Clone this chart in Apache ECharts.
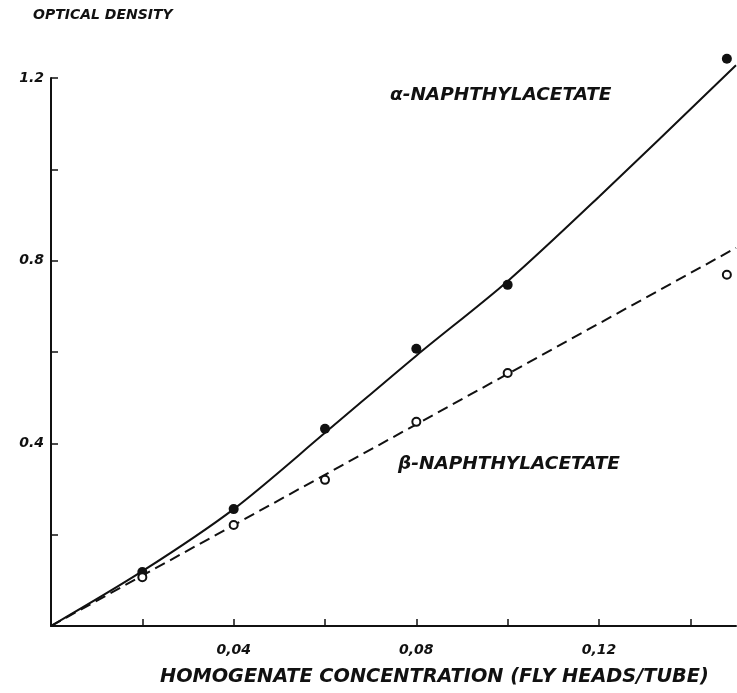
<!DOCTYPE html>
<html>
<head>
<meta charset="utf-8">
<script src="https://cdn.jsdelivr.net/npm/echarts@6/dist/echarts.min.js"></script>
<style>
  html, body { margin: 0; padding: 0; background: #fff; }
  #chart { width: 737px; height: 693px; }
</style>
</head>
<body>
<div id="chart"></div>
<script>
// Homogenate concentration (fly heads per tube)
var concentration = [0.02, 0.04, 0.06, 0.08, 0.10, 0.148];
// Optical density measured with each substrate
var alphaDensity = [0.118, 0.256, 0.432, 0.607, 0.747, 1.242];
var betaDensity  = [0.107, 0.221, 0.320, 0.447, 0.554, 0.769];

// Drawn fit curves through the measurements
var alphaFitX = [0, 0.02, 0.04, 0.06, 0.08, 0.10, 0.12, 0.15];
var alphaFitY = [0, 0.12, 0.256, 0.423, 0.592, 0.755, 0.94, 1.228];
var betaFitX  = [0, 0.15];
var betaFitY  = [0, 0.828];

// Axis ticks and labels
var xTicks  = [0.02, 0.04, 0.06, 0.08, 0.10, 0.12, 0.14];
var xLabels = [0.04, 0.08, 0.12];
var yTicks  = [0.2, 0.4, 0.6, 0.8, 1.0, 1.2];
var yLabels = [0.4, 0.8, 1.2];

var yTitle = 'OPTICAL DENSITY';
var xTitle = 'HOMOGENATE CONCENTRATION (FLY HEADS/TUBE)';
var alphaName = 'α-NAPHTHYLACETATE';
var betaName  = 'β-NAPHTHYLACETATE';

function pairs(xs, ys) {
  return xs.map(function (x, i) { return [x, ys[i]]; });
}

var FONT = '"DejaVu Sans", sans-serif';
var INK = '#111';

var chart = echarts.init(document.getElementById('chart'), null, { renderer: 'canvas' });

chart.setOption({
  backgroundColor: '#fff',
  animation: false,
  grid: { left: 51, right: 1, top: 78, bottom: 67, containLabel: false },
  xAxis: {
    type: 'value',
    min: 0,
    max: 0.15,
    axisLine: { show: true, onZero: false, lineStyle: { color: INK, width: 2 } },
    axisTick: { show: true, inside: true, length: 7, customValues: xTicks, lineStyle: { color: INK, width: 1.5 } },
    axisLabel: {
      customValues: xLabels,
      margin: 17,
      color: INK,
      fontFamily: FONT,
      fontStyle: 'italic',
      fontWeight: 'bold',
      fontSize: 14,
      formatter: function (v) { return v.toFixed(2).replace('.', ','); }
    },
    splitLine: { show: false }
  },
  yAxis: {
    type: 'value',
    min: 0,
    max: 1.2,
    axisLine: { show: true, onZero: false, lineStyle: { color: INK, width: 2 } },
    axisTick: { show: true, inside: true, length: 7, customValues: yTicks, lineStyle: { color: INK, width: 1.5 } },
    axisLabel: {
      customValues: yLabels,
      margin: 7,
      color: INK,
      fontFamily: FONT,
      fontStyle: 'italic',
      fontWeight: 'bold',
      fontSize: 14,
      formatter: function (v) { return v.toFixed(1); }
    },
    splitLine: { show: false }
  },
  series: [
    {
      name: 'alpha fit',
      type: 'line',
      data: pairs(alphaFitX, alphaFitY),
      smooth: 0.3,
      showSymbol: false,
      silent: true,
      clip: false,
      lineStyle: { color: INK, width: 2 },
      z: 2
    },
    {
      name: 'beta fit',
      type: 'line',
      data: pairs(betaFitX, betaFitY),
      showSymbol: false,
      silent: true,
      lineStyle: { color: INK, width: 2, type: [11, 6] },
      z: 2
    },
    {
      name: alphaName,
      type: 'scatter',
      data: pairs(concentration, alphaDensity),
      symbol: 'circle',
      symbolSize: 10,
      clip: false,
      itemStyle: { color: INK, opacity: 1 },
      z: 3
    },
    {
      name: betaName,
      type: 'scatter',
      data: pairs(concentration, betaDensity),
      symbol: 'circle',
      symbolSize: 8,
      clip: false,
      itemStyle: { color: '#fff', borderColor: INK, borderWidth: 2, opacity: 1 },
      z: 3
    }
  ],
  graphic: [
    {
      type: 'text', left: 33, top: 8,
      style: { text: yTitle, fill: INK, font: 'italic bold 14px ' + FONT }
    },
    {
      type: 'text', left: 390, top: 86,
      style: { text: alphaName, fill: INK, font: 'italic bold 18.5px ' + FONT }
    },
    {
      type: 'text', left: 398, top: 455,
      style: { text: betaName, fill: INK, font: 'italic bold 18.5px ' + FONT }
    },
    {
      type: 'text', left: 160, top: 667,
      style: { text: xTitle, fill: INK, font: 'italic bold 19.3px ' + FONT }
    }
  ]
});
</script>
</body>
</html>
